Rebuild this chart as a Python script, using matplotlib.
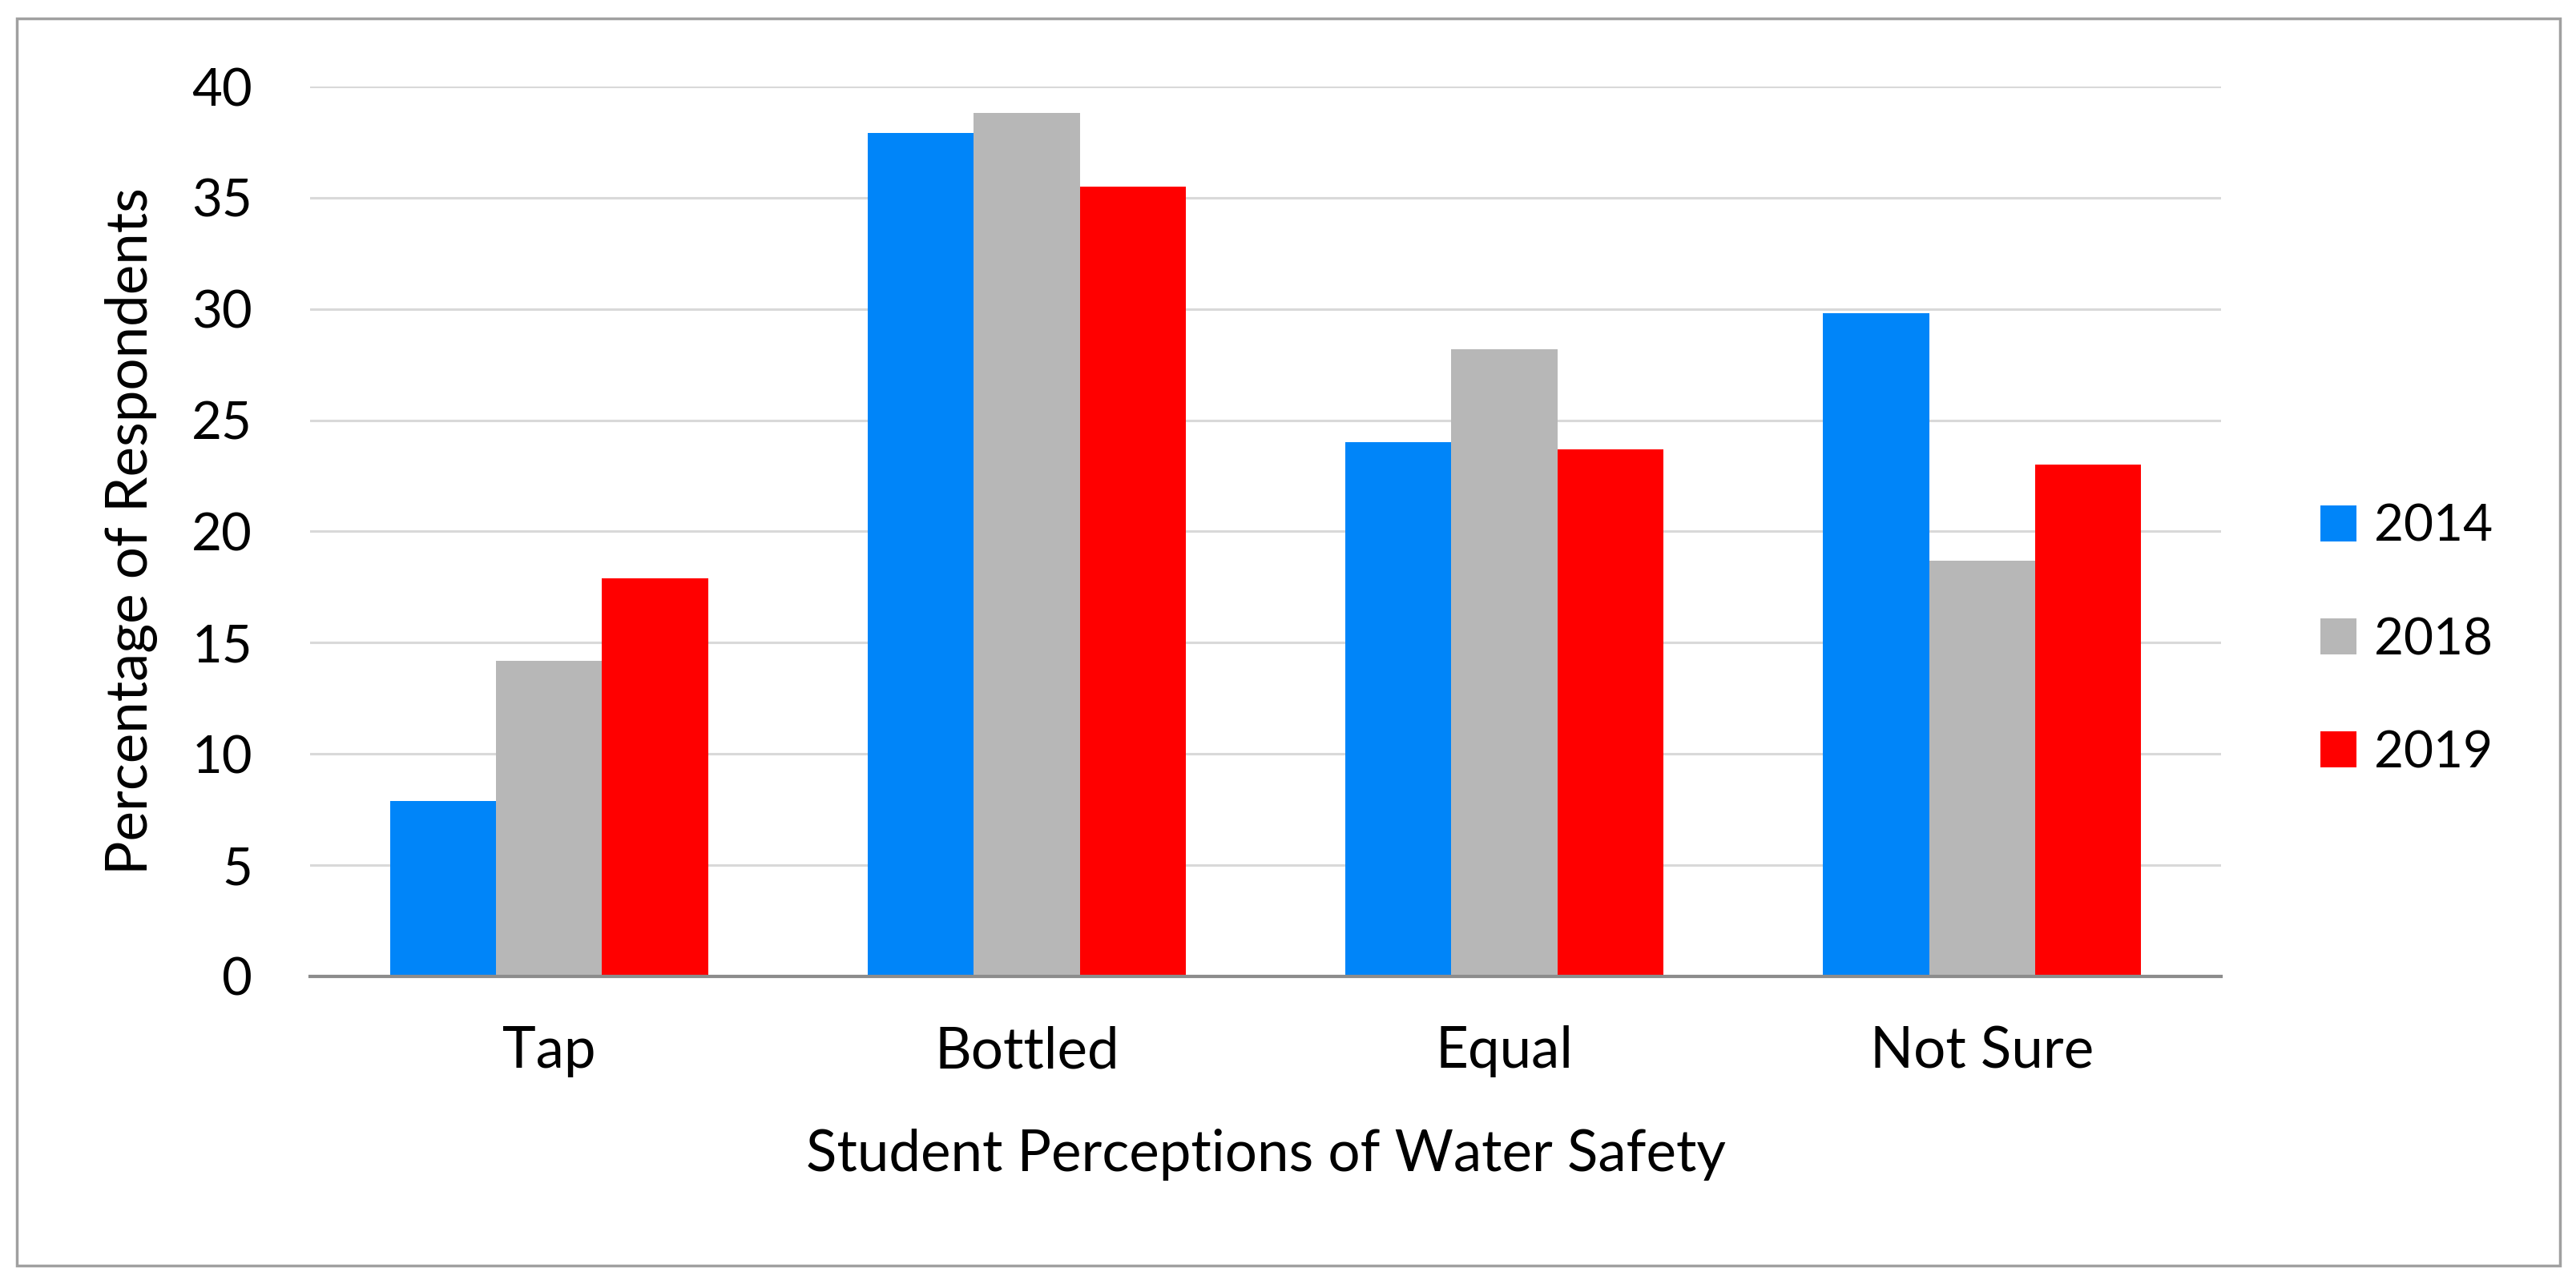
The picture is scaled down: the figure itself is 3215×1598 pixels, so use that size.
import numpy as np
import matplotlib
matplotlib.use("Agg")
import matplotlib.pyplot as plt
from matplotlib.patches import Rectangle

plt.rcParams['font.family'] = ['Lato', 'DejaVu Sans']

categories = ["Tap", "Bottled", "Equal", "Not Sure"]
years = ["2014", "2018", "2019"]
vals_2014 = [7.9, 37.9, 24.0, 29.8]
vals_2018 = [14.2, 38.8, 28.2, 18.7]
vals_2019 = [17.9, 35.5, 23.7, 23.0]
colors = ["#0085F9", "#B7B7B7", "#FF0000"]

fig = plt.figure(figsize=(32.15, 15.98), dpi=100)
ax = fig.add_axes([0.1204, 0.2372, 0.7418, 0.6952])

x = np.arange(len(categories))
w = 0.222
for i, (vals, yr) in enumerate(zip([vals_2014, vals_2018, vals_2019], years)):
    ax.bar(x + (i - 1) * w, vals, w, color=colors[i], label=yr, zorder=3)

ax.set_xlim(-0.5, 3.5)
ax.set_ylim(0, 40)
ax.set_yticks(range(0, 41, 5))
ax.set_xticks(x)
ax.set_xticklabels(categories)
ax.yaxis.grid(True, color="#D9D9D9", linewidth=2.2, zorder=0)
ax.tick_params(axis="both", length=0, colors="#000000")
ax.tick_params(axis="y", pad=52, labelsize=47)
ax.tick_params(axis="x", pad=44, labelsize=51)
for s in ["top", "right", "left"]:
    ax.spines[s].set_visible(False)
ax.spines["bottom"].set_color("#8C8C8C")
ax.spines["bottom"].set_linewidth(3)
ax.spines["bottom"].set_zorder(4)

ax.set_ylabel("Percentage of Respondents", fontsize=51, labelpad=30)
ax.set_xlabel("Student Perceptions of Water Safety", fontsize=51, labelpad=46)

ax.legend(loc="center left", bbox_to_anchor=(0.883, 0.5), bbox_transform=fig.transFigure,
          frameon=False, fontsize=46, handlelength=0.7, handleheight=0.7,
          handletextpad=0.35, labelspacing=1.3)

fig.patches.append(Rectangle((21 / 3215, 1 - 1580 / 1598), 3174 / 3215, 1557 / 1598,
                             transform=fig.transFigure, fill=False,
                             edgecolor="#A0A0A0", linewidth=2.5))

fig.savefig("out.png", dpi=100, facecolor="white")
